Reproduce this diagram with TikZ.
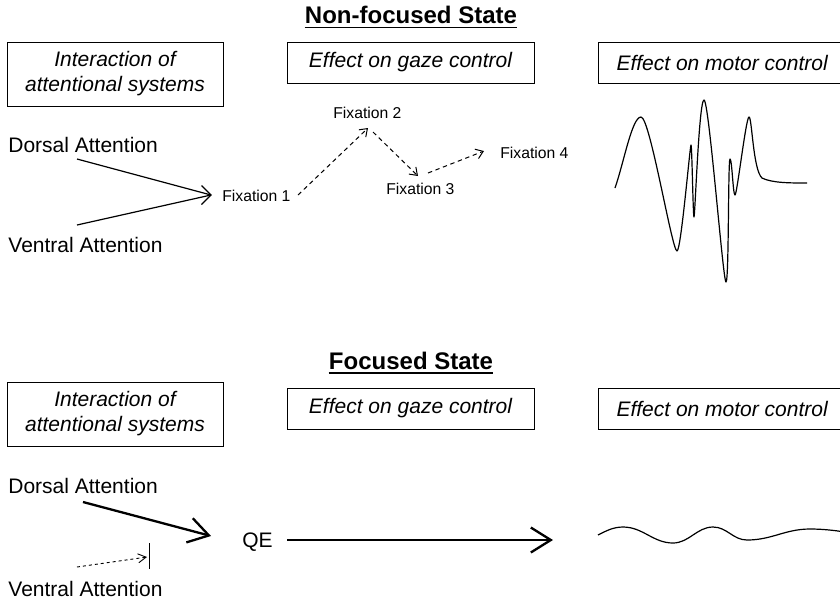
\documentclass[tikz,border=0pt]{standalone}
\usepackage{fontspec}
\setmainfont{Liberation Sans}
\usetikzlibrary{arrows.meta}
\begin{document}
\begin{tikzpicture}[x=0.5pt,y=-0.5pt,
  box/.style={draw, line width=0.5pt, inner sep=0pt, font=\itshape\fontsize{10.5}{12.5}\selectfont, align=center},
  lbl/.style={font=\fontsize{10.5}{12.5}\selectfont, inner sep=0pt},
  fix/.style={font=\fontsize{7.85}{9}\selectfont, inner sep=0pt},
  ttl/.style={font=\bfseries\fontsize{12}{14}\selectfont, inner sep=0pt},
  uline/.style={line width=0.65pt},
  thinline/.style={line width=0.6pt},
  thickline/.style={line width=1.15pt},
  dashedarrow/.style={line width=0.5pt, dash pattern=on 2.2pt off 1.8pt, -{Straight Barb[length=3.5pt,width=5pt]}},
  dottedarrow/.style={line width=0.45pt, dash pattern=on 1.5pt off 1.5pt, -{Straight Barb[length=4pt,width=4.5pt]}},
  bigtip/.style={-{Straight Barb[length=10pt,width=12.5pt]}},
]
\clip (0,0) rectangle (840,601);
\fill[white] (0,0) rectangle (840,601);

% ---------- Non-focused state ----------
\node[ttl, anchor=base] (t1) at (411,23.5) {Non-focused State};
\draw[uline] ([yshift=-2pt]t1.base west) -- ([yshift=-2pt]t1.base east);

\node[box, minimum width=108pt, minimum height=32pt] (b1) at (115,74) {Interaction of\\attentional systems};
\node[box, minimum width=123.5pt, minimum height=20.5pt] (b2) at (410.5,62.5) {Effect on gaze control};
\node[box, anchor=west, inner xsep=9pt, minimum height=20.5pt] (b3) at (598,62.5) {Effect on motor control};

\node[lbl, anchor=base west] (d1) at (8,152) {Dorsal Attention};
\node[lbl, anchor=base west] (v1) at (8,252.5) {Ventral Attention};
\coordinate (d1s) at (77,159);
\coordinate (v1s) at (77,225);
\coordinate (m1) at (211,195);
\draw[thinline] (d1s) -- (m1);
\draw[thinline] (v1s) -- (m1);
\draw[thinline] (m1) ++(-9.5,-9.5) -- (m1) -- ++(-9.5,9.5);

\node[fix, anchor=base west] (f1) at (222,201.6) {Fixation 1};
\node[fix, anchor=base west] (f2) at (333,118.6) {Fixation 2};
\node[fix, anchor=base west] (f3) at (386,194.6) {Fixation 3};
\node[fix, anchor=base west] (f4) at (500,158.6) {Fixation 4};
\coordinate (a1s) at (298,195);
\coordinate (a1e) at (368,128);
\coordinate (a2s) at (373,132);
\coordinate (a2e) at (418,176);
\coordinate (a3s) at (428,173);
\coordinate (a3e) at (484,151);
\draw[dashedarrow] (a1s) -- (a1e);
\draw[dashedarrow] (a2s) -- (a2e);
\draw[dashedarrow] (a3s) -- (a3e);

\draw[thinline, line join=round]
  (615,188) .. controls (624,162) and (632,117) .. (641,117)
  .. controls (650,117) and (672,251) .. (677,251)
  .. controls (681,251) and (690,145) .. (691,145)
  .. controls (692,145) and (693,217) .. (694,217)
  .. controls (695,217) and (699,100) .. (704,100)
  .. controls (709,100) and (723,282) .. (726,282)
  .. controls (729,282) and (728,159) .. (730,159)
  .. controls (732,159) and (733,195) .. (735,195)
  .. controls (737,195) and (746,117) .. (749,117)
  .. controls (752,117) and (753,170) .. (762,178)
  .. controls (772,183) and (790,183) .. (807,183);

% ---------- Focused state ----------
\node[ttl, anchor=base] (t2) at (411,369) {Focused State};
\draw[uline] ([yshift=-2pt]t2.base west) -- ([yshift=-2pt]t2.base east);

\node[box, minimum width=108pt, minimum height=32pt] (b4) at (115,414) {Interaction of\\attentional systems};
\node[box, minimum width=123.5pt, minimum height=20.5pt] (b5) at (410.5,408.5) {Effect on gaze control};
\node[box, anchor=west, inner xsep=9pt, minimum height=20.5pt] (b6) at (598,408.5) {Effect on motor control};

\node[lbl, anchor=base west] (d2) at (8,493.5) {Dorsal Attention};
\node[lbl, anchor=base west] (v2) at (8,596.5) {Ventral Attention};
\node[lbl, anchor=base west] (qe) at (242,547.5) {QE};
\coordinate (d2s) at (83,502);
\coordinate (d2e) at (211,536);
\coordinate (q1s) at (287,540);
\coordinate (q1e) at (553,540);
\coordinate (v2s) at (77,567);
\coordinate (v2e) at (147,557);
\coordinate (bart) at (149,543);
\coordinate (barb) at (149,569);
\draw[thickline, bigtip] (d2s) -- (d2e);
\draw[thickline, bigtip] (q1s) -- (q1e);
\draw[dottedarrow] (v2s) -- (v2e);
\draw[line width=0.5pt] (bart) -- (barb);

\draw[thinline]
  (598,535) .. controls (606,531) and (613,527) .. (623,527)
  .. controls (643,527) and (653,543) .. (673,543)
  .. controls (689,543) and (697,527) .. (713,527)
  .. controls (727,527) and (733,540) .. (747,540)
  .. controls (772,540) and (785,529) .. (810,529)
  .. controls (825,529) and (840,531) .. (850,533);
\end{tikzpicture}
\end{document}
